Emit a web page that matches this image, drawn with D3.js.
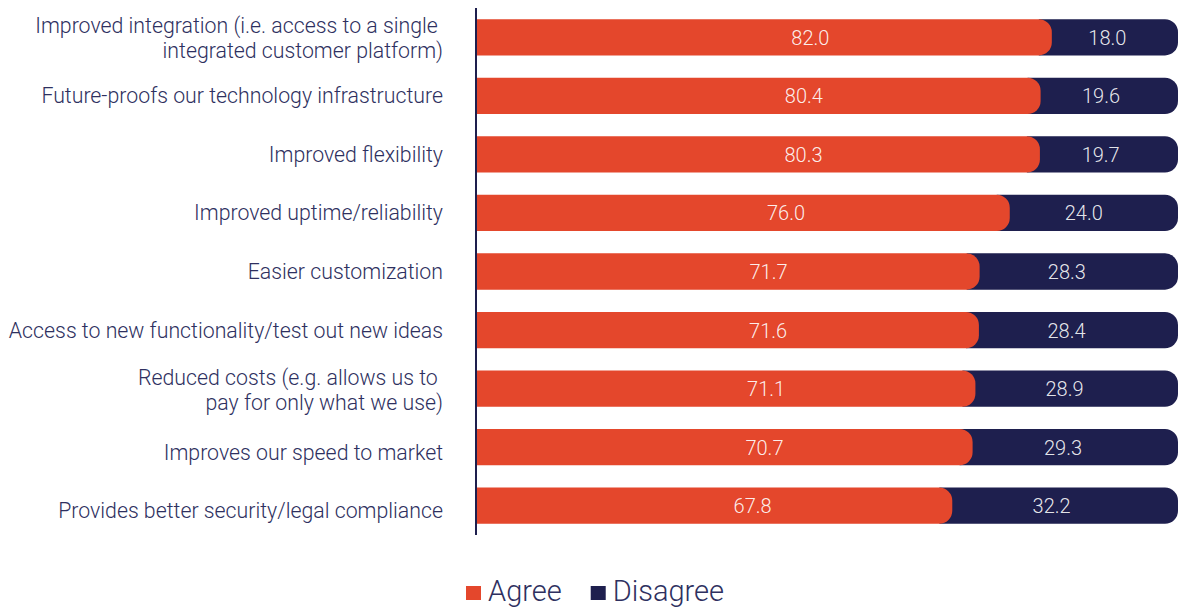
<!DOCTYPE html>
<html>
<head>
<meta charset="utf-8">
<script src="https://cdn.jsdelivr.net/npm/d3@7"></script>
<style>
  body { margin: 0; background: #fff; }
  text { font-family: Roboto, "Noto Sans", sans-serif; font-weight: 300; }
</style>
</head>
<body>
<script>
const w = 1178;
const h = 607;

const categories = [
  "Improved integration (i.e. access to a single \nintegrated customer platform)",
  "Future-proofs our technology infrastructure",
  "Improved flexibility",
  "Improved uptime/reliability",
  "Easier customization",
  "Access to new functionality/test out new ideas",
  "Reduced costs (e.g. allows us to \npay for only what we use)",
  "Improves our speed to market",
  "Provides better security/legal compliance"
];
const agree = [82.0, 80.4, 80.3, 76.0, 71.7, 71.6, 71.1, 70.7, 67.8];
const disagree = [18.0, 19.6, 19.7, 24.0, 28.3, 28.4, 28.9, 29.3, 32.2];
const seriesNames = ["Agree", "Disagree"];
const colors = ["#e4472c", "#1e1f4e"];
const textColor = "#2e3060";

const svg = d3.select("body").append("svg")
  .attr("width", w)
  .attr("height", h);

const x = d3.scaleLinear().domain([0, 100]).range([477, 1178]);
const y = d3.scaleBand()
  .domain(d3.range(categories.length))
  .range([8, 535])
  .paddingInner(0.38)
  .paddingOuter(0.19);

const r = 13;
// rect with rounded right end only
function roundRight(x0, x1, y0, bh) {
  return "M" + x0 + "," + y0 +
    "H" + (x1 - r) +
    "A" + r + "," + r + " 0 0 1 " + x1 + "," + (y0 + r) +
    "V" + (y0 + bh - r) +
    "A" + r + "," + r + " 0 0 1 " + (x1 - r) + "," + (y0 + bh) +
    "H" + x0 + "Z";
}

const rows = svg.append("g").selectAll("g")
  .data(categories.map((c, i) => ({ c: c, i: i, a: agree[i], d: disagree[i] })))
  .enter().append("g");

// disagree (behind), starts under the orange rounded end
rows.append("path")
  .attr("d", d => roundRight(x(d.a) - r, x(d.a + d.d), y(d.i), y.bandwidth()))
  .attr("fill", colors[1]);

rows.append("path")
  .attr("d", d => roundRight(x(0), x(d.a), y(d.i), y.bandwidth()))
  .attr("fill", colors[0]);

// value labels
rows.append("text")
  .attr("x", d => x(0) + (x(d.a) - x(0)) * 0.58)
  .attr("y", d => y(d.i) + y.bandwidth() / 2 + 7.5)
  .attr("text-anchor", "middle")
  .attr("fill", "#fff")
  .attr("fill-opacity", 0.92)
  .style("font-size", "20px")
  .text(d => d.a.toFixed(1));

rows.append("text")
  .attr("x", d => x(d.a) + (x(d.a + d.d) - x(d.a)) * 0.44)
  .attr("y", d => y(d.i) + y.bandwidth() / 2 + 7.5)
  .attr("text-anchor", "middle")
  .attr("fill", "#fff")
  .attr("fill-opacity", 0.9)
  .style("font-size", "20px")
  .text(d => d.d.toFixed(1));

// category labels (the last two sit a little low in the original)
rows.append("text")
  .attr("text-anchor", "end")
  .attr("fill", textColor)
  .style("font-size", "21.3px")
  .style("white-space", "pre")
  .each(function(d) {
    const lines = d.c.split("\n");
    const cy = y(d.i) + y.bandwidth() / 2 + (d.i >= 7 ? 5 : 0);
    const base = lines.length > 1 ? cy - 4 : cy + 7.5;
    d3.select(this).selectAll("tspan")
      .data(lines)
      .enter().append("tspan")
      .attr("x", 443)
      .attr("y", (l, k) => base + k * 25)
      .text(l => l);
  });

// axis line
svg.append("line")
  .attr("x1", 476).attr("x2", 476)
  .attr("y1", 8).attr("y2", 535)
  .attr("stroke", colors[1])
  .attr("stroke-width", 2);

// legend
const legend = svg.append("g").attr("transform", "translate(466,0)");
let lx = 0;
seriesNames.forEach((s, i) => {
  legend.append("rect")
    .attr("x", lx).attr("y", 586)
    .attr("width", 15).attr("height", 14)
    .attr("fill", colors[i]);
  const t = legend.append("text")
    .attr("x", lx + 22).attr("y", 601)
    .attr("fill", textColor)
    .style("font-size", "29px")
    .text(s);
  lx += 22 + t.node().getComputedTextLength() + 29;
});
</script>
</body>
</html>
